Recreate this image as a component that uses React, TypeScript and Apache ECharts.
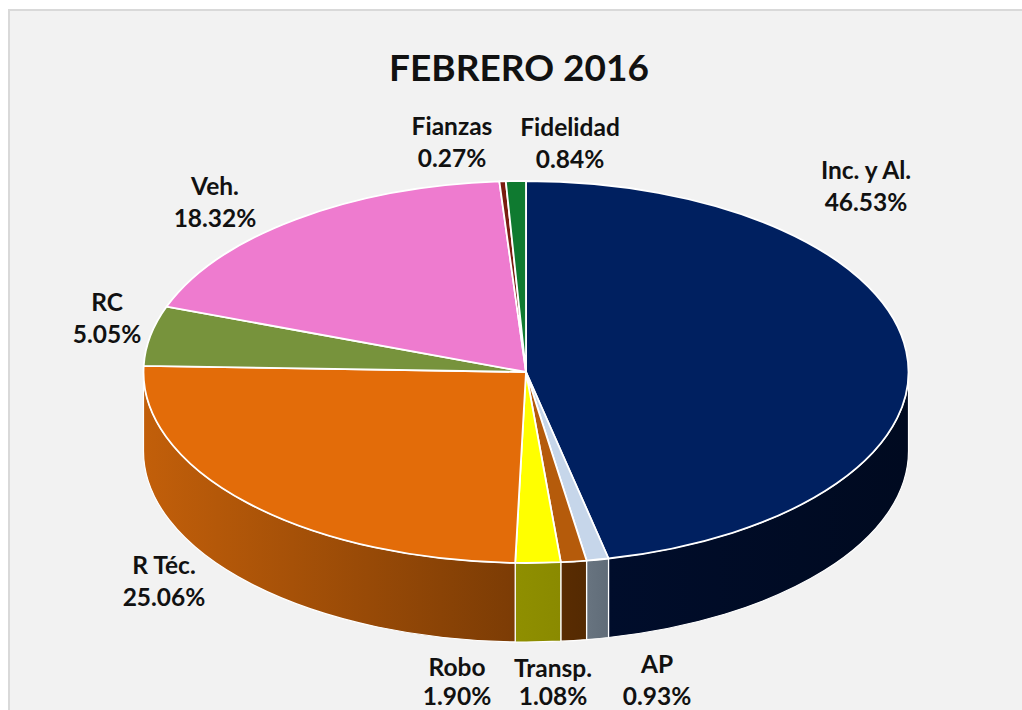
import React, { useEffect, useRef } from "react";
import * as echarts from "echarts";

const titleText = "FEBRERO 2016";
const categories = ["Inc. y Al.", "AP", "Transp.", "Robo", "R Téc.", "RC", "Veh.", "Fianzas", "Fidelidad"];
const shares = [46.53, 0.93, 1.08, 1.9, 25.06, 5.05, 18.32, 0.27, 0.84];

const topColors = ["#002060", "#c6d6ea", "#b55b0b", "#ffff00", "#e36c09", "#77933c", "#ee7bcf", "#7a1c10", "#0f7a30"];
const sideStart = ["#000d2b", "#687480", "#5a2c02", "#8f8f00", "#c25f0a", "#4f6228", "#a0528a", "#4f120a", "#0a5020"];
const sideEnd = ["#000a20", "#606c78", "#542a02", "#8a8a00", "#7c3c05", "#4f6228", "#a0528a", "#4f120a", "#0a5020"];

// label placement by category: x, y of the name line, y of the percent line
const labelPlaces: Record<string, [number, number, number]> = {
  "Inc. y Al.": [866, 169, 201],
  AP: [657, 663, 695],
  "Transp.": [553, 667, 695],
  Robo: [457, 666, 695],
  "R Téc.": [164, 564, 596],
  RC: [107, 301, 333],
  "Veh.": [215, 185, 217],
  Fianzas: [452, 125, 157],
  Fidelidad: [570, 126, 158],
};

const CX = 526;
const CY = 372;
const RX = 382.5;
const RY = 191;
const DEPTH = 79;
const FONT = "Lato";
const INK = "#111111";
const LABEL_SIZE = 24.5;

const total = shares.reduce((a, b) => a + b, 0);
const rad = (deg: number) => (deg * Math.PI) / 180;
const px = (deg: number) => CX + RX * Math.sin(rad(deg));
const py = (deg: number) => CY - RY * Math.cos(rad(deg));

function startOf(i: number) {
  let s = 0;
  for (let k = 0; k < i; k++) s += shares[k];
  return (s / total) * 360;
}

function topPath(a: number, b: number) {
  const large = b - a > 180 ? 1 : 0;
  return `M${CX} ${CY}L${px(a)} ${py(a)}A${RX} ${RY} 0 ${large} 1 ${px(b)} ${py(b)}Z`;
}

function sidePath(a: number, b: number) {
  return (
    `M${px(a)} ${py(a)}A${RX} ${RY} 0 0 1 ${px(b)} ${py(b)}` +
    `L${px(b)} ${py(b) + DEPTH}A${RX} ${RY} 0 0 0 ${px(a)} ${py(a) + DEPTH}Z`
  );
}

function labelLine(text: string, x: number, y: number) {
  return {
    type: "text",
    z2: 3,
    style: {
      text,
      x,
      y,
      align: "center",
      verticalAlign: "middle",
      fontFamily: FONT,
      fontWeight: "bold",
      fontSize: LABEL_SIZE,
      fill: INK,
    },
  };
}

function renderSlice(params: any, api: any) {
  const i = params.dataIndex;
  const value = api.value(0) as number;
  const a = startOf(i);
  const b = a + (value / total) * 360;
  const children: any[] = [];
  const sa = Math.max(a, 90);
  const sb = Math.min(b, 270);
  if (sb > sa) {
    children.push({
      type: "path",
      shape: { pathData: sidePath(sa, sb) },
      style: {
        fill: new echarts.graphic.LinearGradient(0, 0, 1, 0, [
          { offset: 0, color: sideStart[i] },
          { offset: 1, color: sideEnd[i] },
        ]),
        stroke: "#ffffff",
        lineWidth: 1.2,
        lineJoin: "round",
      },
      z2: 1,
    });
  }
  children.push({
    type: "path",
    shape: { pathData: topPath(a, b) },
    style: { fill: topColors[i], stroke: "#ffffff", lineWidth: 1.8, lineJoin: "round" },
    z2: 2,
  });
  const [lx, nameY, pctY] = labelPlaces[categories[i]];
  children.push(labelLine(categories[i], lx, nameY));
  children.push(labelLine(`${value.toFixed(2)}%`, lx, pctY));
  return { type: "group", children };
}

export default function App() {
  const ref = useRef<HTMLDivElement>(null);
  useEffect(() => {
    const chart = echarts.init(ref.current!, undefined, { renderer: "svg" });
    chart.setOption({
      animation: false,
      backgroundColor: "#ffffff",
      title: {
        text: titleText,
        left: 514,
        top: 43,
        textAlign: "center",
        textStyle: { fontFamily: FONT, fontWeight: "bold", fontSize: 37, color: INK },
      },
      graphic: [
        {
          type: "rect",
          z: -1,
          shape: { x: 9, y: 10, width: 1030, height: 720 },
          style: { fill: "#f2f2f2", stroke: "#d9d9d9", lineWidth: 2 },
        },
      ],
      series: [
        {
          type: "custom",
          coordinateSystem: "none",
          renderItem: renderSlice,
          data: shares.map((v, i) => ({ name: categories[i], value: [v] })),
        },
      ],
    });
    return () => chart.dispose();
  }, []);
  return <div ref={ref} style={{ position: "fixed", left: 0, top: 0, width: 1022, height: 710 }} />;
}
